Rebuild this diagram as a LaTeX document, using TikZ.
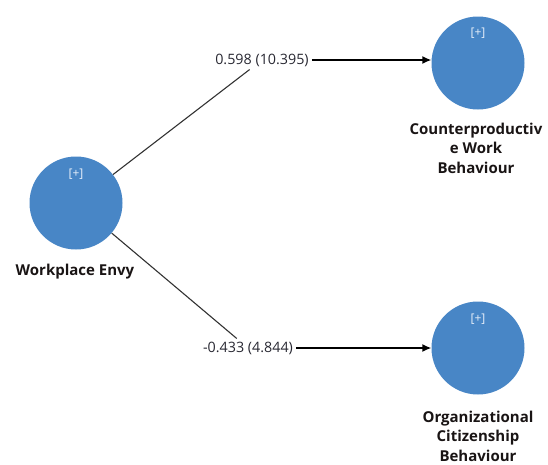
\documentclass[tikz,border=0pt]{standalone}
\usepackage{fontspec}
\setmainfont{Open Sans}
\usetikzlibrary{arrows.meta,calc}
\definecolor{circblue}{RGB}{72,134,198}
\definecolor{plustext}{RGB}{232,240,250}
\definecolor{numtext}{RGB}{40,40,50}
\definecolor{lbltext}{RGB}{25,20,20}
\definecolor{linegray}{RGB}{50,50,50}
\tikzset{
  latent/.style={circle,fill=circblue,draw=none,minimum size=93pt,inner sep=0pt},
  plus/.style={text=plustext,font=\fontsize{12}{13}\selectfont,inner sep=0pt},
  varlbl/.style={text=lbltext,font=\fontsize{15}{19.5}\selectfont\bfseries,align=center,inner sep=0pt},
  coef/.style={text=numtext,font=\fontsize{14.3}{16}\selectfont,inner sep=3pt},
  path/.style={draw=linegray,line width=1.1pt},
  arr/.style={draw=black,line width=1.4pt,-{Latex[length=9pt,width=8pt]}}
}
\begin{document}
\begin{tikzpicture}[x=1pt,y=-1pt]
\useasboundingbox (0,0) rectangle (548,464);
\node[latent] (we) at (76,203) {};
\node[latent] (cwb) at (478,63) {};
\node[latent] (ocb) at (478,348) {};
\node[plus] (wep) at (76,174) {[+]};
\node[plus] (cwbp) at (478,33) {[+]};
\node[plus] (ocbp) at (478,319) {[+]};
\node[varlbl] (wel) at (75,272) {Workplace Envy};
\node[varlbl] (cwbl) at (476,148) {Counterproductiv\\e Work\\Behaviour};
\node[varlbl] (ocbl) at (478,436) {Organizational\\Citizenship\\Behaviour};
\node[coef] (l1) at (262,60) {0.598 (10.395)};
\node[coef] (l2) at (248,348) {-0.433 (4.844)};
\draw[path] (we) -- (l1);
\draw[path] (we) -- (l2);
\draw[arr] (l1.east) -- (l1.east -| cwb.west);
\draw[arr] (l2.east) -- (l2.east -| ocb.west);
\end{tikzpicture}
\end{document}
